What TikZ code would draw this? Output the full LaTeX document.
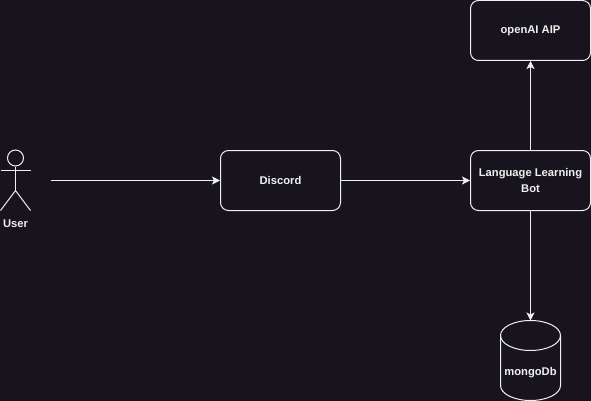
\documentclass[tikz,border=0pt]{standalone}
\usepackage{fontspec}
\setmainfont{Liberation Sans}
\usetikzlibrary{arrows.meta,positioning}
\definecolor{DiagramBg}{HTML}{18141D}
\definecolor{DiagramLine}{HTML}{F0F0F0}

\begin{document}
\begin{tikzpicture}[x=1pt,y=1pt,node distance=89pt and 129pt]
    \tikzset{r/.style={rounded corners=8pt,draw=DiagramLine,line width=1pt,text=DiagramLine,
      minimum width=120pt,minimum height=60pt,align=center,font=\fontsize{11.2}{16}\selectfont\bfseries,inner sep=2pt},
      lbl/.style={text=DiagramLine,font=\fontsize{11.2}{16}\selectfont\bfseries,inner sep=0pt},
      limb/.style={draw=DiagramLine,line width=1pt},
      link/.style={draw=DiagramLine,line width=1pt,-{Stealth[length=8pt,width=8pt,inset=2pt]}}}
    \fill[DiagramBg] (0,0) rectangle (591,-401);
    \useasboundingbox (0,0) rectangle (591,-401);
    \node[r] (discord) at (280.5,-180.5) {Discord};
    \node[r,right=of discord] (bot) {Language Learning\\Bot};
    \node[r,above=of bot] (openai) {openAI AIP};
    % database drum
    \node[minimum width=60pt,minimum height=80pt,inner sep=0pt,outer sep=0pt] (mongo) at (530.5,-360.5) {};
    \draw[limb] ([yshift=-15pt]mongo.north west) arc[start angle=180,end angle=0,x radius=30,y radius=15]
      -- ([yshift=15pt]mongo.south east) arc[start angle=0,end angle=-180,x radius=30,y radius=15] -- cycle;
    \draw[limb] ([yshift=-15pt]mongo.north west) arc[start angle=180,end angle=360,x radius=30,y radius=15];
    \node[lbl] (mongolabel) at (530.5,-372.5) {mongoDb};
    % stick figure
    \node[circle,limb,minimum size=16pt,inner sep=0pt] (head) at (15.5,-158) {};
    \coordinate (hip) at (15.5,-190.5);
    \draw[limb] (head.south) -- (hip);
    \draw[limb] (0.5,-170.5) -- (30.5,-170.5);
    \draw[limb] (0.5,-210.5) -- (hip) -- (30.5,-210.5);
    \node[lbl] (user) at (15.5,-224) {User};
    \coordinate (start) at (50.5,-180.5);
    \draw[link] (start) -- (discord);
    \draw[link] (discord) -- (bot);
    \draw[link] (bot) -- (openai);
    \draw[link] (bot) -- (mongo.north);
  \end{tikzpicture}
\end{document}
